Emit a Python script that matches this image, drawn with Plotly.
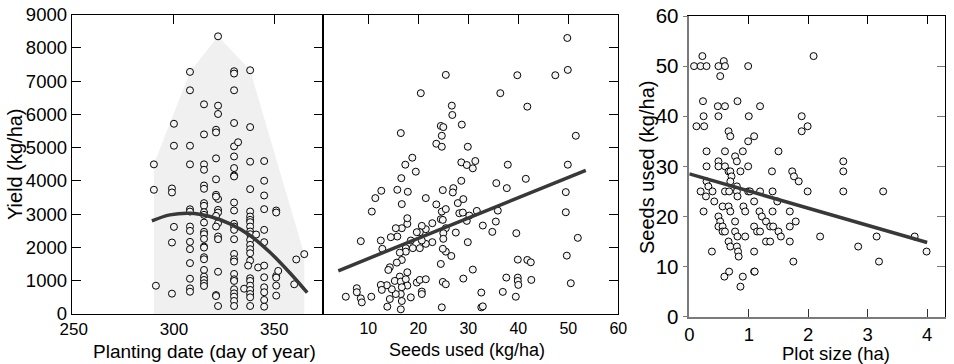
import plotly.graph_objects as go

# ---------------- Panel 1: yield vs planting date ----------------
plant_date = (
    [290, 290, 291]
    + [300, 300, 299, 299, 300, 299, 299]
    + [308] * 14
    + [315] * 23
    + [322] * 11
    + [321] * 10
    + [330] * 26
    + [332, 335]
    + [338] * 23
    + [337, 341, 342]
    + [345] * 12
    + [351] * 6
    + [352, 360, 361, 365]
)
plant_yield = (
    [4500, 3735, 850]
    + [5720, 5060, 3775, 3655, 2620, 2150, 612]
    + [7280, 6727, 5060, 4500, 3150, 3080, 2630, 2500, 2170, 1950, 1530, 1060, 770, 670]
    + [6305, 5400, 4500, 4337, 3865, 3765, 3334, 3253, 3062, 2982, 2750, 2470, 2400,
       2259, 2028, 1998, 1707, 1646, 1325, 1124, 1024, 924, 843]
    + [8350, 6265, 6015, 3460, 3130, 3050, 2730, 2330, 2250, 1270, 240]
    + [5540, 5460, 4680, 4050, 3585, 3530, 2950, 2630, 570, 540]
    + [7300, 7230, 6727, 5743, 5040, 4738, 4388, 4166, 4136, 3353, 3112, 2711, 2630,
       2530, 2249, 1807, 1646, 1576, 1205, 1044, 994, 743, 622, 522, 392, 241]
    + [5165, 760]
    + [7330, 5620, 4580, 3755, 3082, 2931, 2831, 2761, 2630, 2480, 2400, 2229, 2078,
       1948, 1828, 1606, 1074, 994, 853, 723, 602, 502, 241]
    + [1456, 2390, 1400]
    + [4600, 4006, 3564, 3153, 2530, 2159, 1456, 1104, 803, 653, 422, 221]
    + [3112, 3052, 1145, 1094, 853, 552]
    + [1295, 894, 1640, 1800]
)
# upper envelope (shaded area)
env_date = [290, 290, 308, 322, 338, 365, 365]
env_yield = [0, 4500, 7280, 8350, 7330, 1800, 0]
# fitted curve
fit1_date = [289, 298, 308, 318, 328, 338, 348, 358, 366.5]
fit1_yield = [2800, 2980, 3030, 2930, 2710, 2360, 1850, 1225, 640]

# ---------------- Panel 2: yield vs seeds used ----------------
seed_pts = [
    (49.8, 8300), (49.9, 7340), (47.4, 7180), (39.8, 7180), (25.5, 7190), (20.5, 6640),
    (36.4, 6640), (41.8, 6235), (26.7, 6265), (26.8, 5985), (28.7, 5695), (24.5, 5655),
    (25.0, 5620), (16.5, 5440), (24.7, 5360), (51.5, 5360), (23.6, 5120), (24.7, 5030),
    (29.9, 5030), (18.8, 4700), (17.4, 4490), (28.6, 4560), (29.7, 4480), (31.4, 4600),
    (30.9, 4380), (37.9, 4490), (49.9, 4490), (19.5, 4280), (16.6, 4085), (28.6, 4005),
    (41.5, 4065), (35.6, 3935), (37.7, 3785), (11.4, 3485), (12.6, 3705), (15.8, 3735),
    (17.9, 3675), (16.7, 3305), (10.7, 3080), (21.5, 3485), (23.6, 3295), (24.9, 3725),
    (27.0, 3785), (26.9, 3655), (27.9, 3335), (29.0, 3455), (24.7, 3080), (25.5, 3155),
    (24.5, 2850), (24.9, 2830), (25.5, 2580), (28.2, 3030), (28.9, 3050), (29.7, 2800),
    (30.2, 2960), (31.7, 3100), (32.9, 2660), (35.5, 2780), (35.9, 3110), (34.8, 2470),
    (39.6, 2430), (49.5, 3665), (49.5, 3060), (51.9, 2290), (49.7, 1755), (50.5, 925),
    (39.9, 1635), (41.8, 1625), (42.5, 1555), (39.9, 1095), (39.9, 995), (40.0, 875),
    (42.6, 1025), (37.6, 1095), (36.9, 665), (39.5, 520), (30.9, 1335), (29.0, 1065),
    (29.9, 2160), (27.5, 2450), (26.6, 1745), (25.5, 1875), (24.9, 1960), (24.5, 1505),
    (24.9, 965), (25.5, 895), (24.7, 200), (32.6, 645), (32.6, 200), (32.9, 230),
    (25.0, 2430), (25.0, 2260), (22.8, 2160), (22.8, 2730), (21.5, 2550), (20.7, 2650),
    (21.5, 2110), (20.3, 2460), (19.7, 2460), (20.7, 2210), (20.3, 1980), (18.9, 1980),
    (17.5, 1980), (18.5, 2210), (17.8, 2710), (17.8, 2880), (16.7, 2580), (15.5, 2580),
    (15.8, 2330), (14.5, 2310), (12.8, 1960), (12.5, 2210), (8.5, 2190), (17.5, 1875),
    (16.3, 1845), (16.7, 1625), (15.7, 1545), (14.3, 1405), (14.0, 1325), (17.8, 1255),
    (16.3, 1125), (15.3, 995), (16.5, 975), (17.5, 1045), (17.8, 855), (16.7, 805),
    (16.5, 600), (15.5, 600), (14.7, 745), (13.7, 865), (12.5, 875), (12.7, 725),
    (14.3, 450), (16.7, 390), (18.5, 500), (13.8, 220), (16.5, 140), (10.6, 520),
    (8.5, 470), (8.7, 350), (7.7, 775), (7.7, 655), (5.5, 520), (19.7, 945),
    (20.3, 1025), (21.5, 1045), (20.7, 675), (20.7, 600),
]
seeds_used = [p[0] for p in seed_pts]
seeds_yield = [p[1] for p in seed_pts]
fit2_seeds = [4, 53.5]
fit2_yield = [1300, 4320]

# ---------------- Panel 3: seeds used vs plot size ----------------
plot_pts = [
    (0.08, 50), (0.19, 50), (0.29, 50), (0.22, 52), (0.12, 38), (0.23, 43), (0.24, 40),
    (0.25, 38), (0.29, 33), (0.29, 30), (0.28, 24), (0.19, 25), (0.24, 21), (0.29, 27),
    (0.32, 26), (0.39, 25), (0.42, 23), (0.38, 13), (0.49, 50), (0.52, 48), (0.58, 51),
    (0.60, 50), (0.48, 42), (0.60, 42), (0.49, 40), (0.49, 31), (0.49, 30), (0.60, 33),
    (0.60, 30), (0.49, 20), (0.52, 19), (0.49, 18), (0.56, 18), (0.56, 17), (0.60, 17),
    (0.56, 22), (0.60, 25), (0.67, 25), (0.66, 37), (0.69, 36), (0.66, 29), (0.69, 29),
    (0.71, 28), (0.69, 27), (0.66, 22), (0.69, 21), (0.66, 15), (0.69, 14), (0.59, 8),
    (0.67, 9), (0.77, 32), (0.80, 31), (0.77, 19), (0.77, 17), (0.80, 26), (0.80, 25),
    (0.81, 43), (0.81, 24), (0.80, 14), (0.82, 13), (0.83, 12), (0.81, 16), (0.86, 29),
    (0.90, 33), (0.91, 22), (0.94, 21), (0.94, 16), (0.86, 6), (0.90, 8), (0.99, 50),
    (1.00, 40), (0.99, 35), (0.99, 30), (0.99, 25), (1.02, 25), (1.09, 36), (1.09, 23),
    (1.09, 18), (1.09, 13), (1.09, 9), (1.10, 9), (1.19, 42), (1.19, 25), (1.18, 21),
    (1.22, 20), (1.14, 17), (1.19, 17), (1.29, 19), (1.29, 15), (1.36, 15), (1.36, 18),
    (1.40, 25), (1.39, 29), (1.40, 21), (1.41, 18), (1.50, 33), (1.48, 23), (1.50, 17),
    (1.54, 16), (1.69, 21), (1.69, 18), (1.69, 15), (1.73, 29), (1.76, 28), (1.84, 27),
    (1.79, 19), (1.75, 11), (1.89, 40), (1.89, 37), (1.99, 38), (1.99, 25), (2.09, 52),
    (2.20, 16), (2.59, 31), (2.59, 29), (2.59, 25), (2.84, 14), (3.15, 16), (3.19, 11),
    (3.26, 25), (3.79, 16), (3.99, 13),
]
plot_size = [p[0] for p in plot_pts]
plot_seeds = [p[1] for p in plot_pts]
fit3_size = [0, 4]
fit3_seeds = [28.5, 14.8]

# ---------------- figure ----------------
W, H = 954, 364
FONT = "Liberation Sans, Arial, Helvetica, sans-serif"
FIT_COLOR = "#383838"
MARK = dict(size=7, color="#f4f4f4", line=dict(color="black", width=1))


def fx(px):
    return px / W


def fy(py):
    return 1 - py / H


fig = go.Figure()

# panel 1
fig.add_trace(go.Scatter(x=env_date, y=env_yield, fill="toself", fillcolor="#f0f0f0",
                         line=dict(width=0), mode="lines", hoverinfo="skip",
                         xaxis="x", yaxis="y"))
fig.add_trace(go.Scatter(x=plant_date, y=plant_yield, mode="markers", marker=MARK,
                         xaxis="x", yaxis="y"))
fig.add_trace(go.Scatter(x=fit1_date, y=fit1_yield, mode="lines",
                         line=dict(color=FIT_COLOR, width=3.5, shape="spline"),
                         xaxis="x", yaxis="y"))
fig.add_trace(go.Scatter(x=[None], y=[None], xaxis="x4", yaxis="y", hoverinfo="skip"))

# panel 2
fig.add_trace(go.Scatter(x=seeds_used, y=seeds_yield, mode="markers", marker=MARK,
                         xaxis="x2", yaxis="y2"))
fig.add_trace(go.Scatter(x=fit2_seeds, y=fit2_yield, mode="lines",
                         line=dict(color=FIT_COLOR, width=3.5), xaxis="x2", yaxis="y2"))
fig.add_trace(go.Scatter(x=[None], y=[None], xaxis="x5", yaxis="y2", hoverinfo="skip"))

# panel 3
fig.add_trace(go.Scatter(x=plot_size, y=plot_seeds, mode="markers", marker=MARK,
                         xaxis="x3", yaxis="y3"))
fig.add_trace(go.Scatter(x=fit3_size, y=fit3_seeds, mode="lines",
                         line=dict(color=FIT_COLOR, width=3.5), xaxis="x3", yaxis="y3"))
fig.add_trace(go.Scatter(x=[None], y=[None], xaxis="x6", yaxis="y3", hoverinfo="skip"))
fig.add_trace(go.Scatter(x=[None], y=[None], xaxis="x3", yaxis="y4", hoverinfo="skip"))

common = dict(showgrid=False, zeroline=False, automargin=False)
dom1 = [fx(71.7), fx(323.3)]
dom2 = [fx(323.3), fx(618.3)]
dom3 = [fx(689.3), fx(945)]
ydom12 = [fy(314), fy(14.7)]
ydom3 = [fy(316.7), fy(16)]
r1 = [249, 374.5]
r2 = [1, 60]
r3 = [0, 4.3]

fig.update_layout(
    template="none",
    width=W, height=H, autosize=False, showlegend=False,
    margin=dict(l=0, r=0, t=0, b=0, pad=0, autoexpand=False),
    paper_bgcolor="white", plot_bgcolor="white",
    font=dict(family=FONT, color="black"),
    # panel 1
    xaxis=dict(**common, domain=dom1, anchor="y", range=r1, tickvals=[250, 300, 350],
               ticks="", showline=True, linecolor="black", linewidth=1,
               tickfont=dict(size=17)),
    xaxis4=dict(**common, overlaying="x", anchor="y", side="top", range=r1,
                tickvals=[300, 350], ticks="inside", ticklen=9, tickcolor="black",
                showticklabels=False, showline=True, linecolor="black", linewidth=1),
    yaxis=dict(**common, domain=ydom12, anchor="x", range=[0, 9000], dtick=1000,
               ticks="inside", ticklen=9, tickcolor="black", mirror="ticks",
               showline=True, linecolor="black", linewidth=1, tickfont=dict(size=18.5)),
    # panel 2
    xaxis2=dict(**common, domain=dom2, anchor="y2", range=r2, tickvals=[10, 20, 30, 40, 50, 60],
                ticks="", showline=True, linecolor="black", linewidth=1,
                tickfont=dict(size=16)),
    xaxis5=dict(**common, overlaying="x2", anchor="y2", side="top", range=r2,
                tickvals=[10, 20, 30, 40, 50], ticks="inside", ticklen=9, tickcolor="black",
                showticklabels=False, showline=True, linecolor="black", linewidth=1),
    yaxis2=dict(**common, domain=ydom12, anchor="x2", side="right", range=[0, 9000],
                dtick=1000, ticks="inside", ticklen=9, tickcolor="black",
                showticklabels=False, showline=True, mirror=True,
                linecolor="black", linewidth=1),
    # panel 3
    xaxis3=dict(**common, domain=dom3, anchor="y3", range=r3, tickvals=[0, 1, 2, 3, 4],
                ticks="inside", ticklen=8, tickcolor="#333333", showline=True,
                linecolor="#7a7a7a", linewidth=1.5, tickfont=dict(size=18.5)),
    xaxis6=dict(**common, overlaying="x3", anchor="y3", side="top", range=r3,
                tickvals=[1, 2, 3, 4], ticks="inside", ticklen=8, tickcolor="black",
                showticklabels=False, showline=True, linecolor="black", linewidth=1),
    yaxis3=dict(**common, domain=ydom3, anchor="x3", range=[0, 60], dtick=10,
                ticks="outside", ticklen=5, tickcolor="#7a7a7a", showline=True,
                linecolor="#7a7a7a", linewidth=1.5, tickfont=dict(size=20.5)),
    yaxis4=dict(**common, overlaying="y3", anchor="x3", side="right", range=[0, 60],
                dtick=10, ticks="inside", ticklen=8, tickcolor="#7a7a7a",
                showticklabels=False, showline=True, linecolor="black", linewidth=1),
)

titles = [
    ("Yield (kg/ha)", 15, 164, -90, 20),
    ("Planting date (day of year)", 204, 351, 0, 19),
    ("Seeds used (kg/ha)", 467, 350, 0, 18),
    ("Seeds used (kg/ha)", 647, 168, -90, 20),
    ("Plot size (ha)", 836, 353, 0, 18.5),
]
for text, px, py, ang, size in titles:
    fig.add_annotation(text=text, x=fx(px), y=fy(py), xref="paper", yref="paper",
                       xanchor="center", yanchor="middle", textangle=ang,
                       showarrow=False, font=dict(size=size, family=FONT, color="black"))

fig.write_html("out.html")
